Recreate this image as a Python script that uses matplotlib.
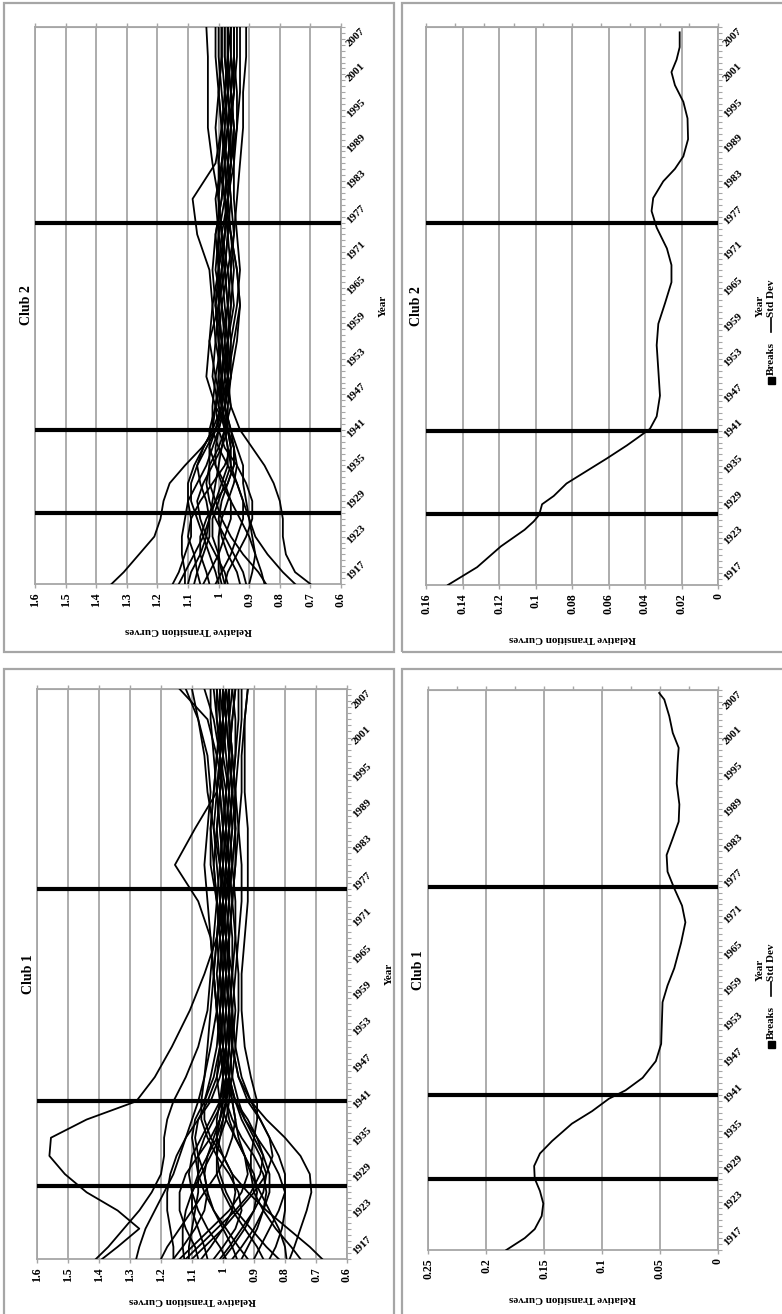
import numpy as np
import matplotlib
matplotlib.use("Agg")
import matplotlib.pyplot as plt
from matplotlib.patches import Rectangle
from matplotlib.lines import Line2D

W, H = 782, 1314
GRAY = "#a6a6a6"
FONT = "Liberation Serif"

# ---- data ----
key_years = [1916, 1918, 1921, 1924, 1927, 1930, 1933, 1936, 1939, 1942, 1946,
             1951, 1957, 1963, 1969, 1975, 1981, 1987, 1993, 1999, 2005, 2010]

club1_curves = [
    [1.39, 1.34, 1.27, 1.34, 1.44, 1.51, 1.56, 1.555, 1.44, 1.28, 1.22, 1.165, 1.107, 1.06, 1.02, 1.01, 1.00, 1.01, 1.02, 1.01, 1.00, 1.00],
    [1.41, 1.37, 1.32, 1.27, 1.23, 1.20, 1.19, 1.19, 1.18, 1.16, 1.12, 1.08, 1.05, 1.04, 1.03, 1.02, 1.03, 1.04, 1.03, 1.02, 1.01, 1.01],
    [1.28, 1.27, 1.25, 1.22, 1.19, 1.16, 1.14, 1.12, 1.10, 1.08, 1.06, 1.05, 1.04, 1.03, 1.04, 1.05, 1.06, 1.05, 1.04, 1.05, 1.08, 1.12],
    [1.20, 1.18, 1.14, 1.10, 1.06, 1.02, 0.99, 0.97, 0.96, 0.97, 0.99, 1.01, 1.02, 1.01, 1.00, 0.99, 0.98, 0.99, 1.00, 1.02, 1.05, 1.14],
    [1.16, 1.16, 1.17, 1.18, 1.18, 1.17, 1.15, 1.12, 1.08, 1.04, 1.01, 0.99, 0.98, 0.99, 1.00, 1.01, 1.00, 0.99, 0.98, 0.99, 1.00, 1.01],
    [1.14, 1.10, 1.04, 0.98, 0.94, 0.92, 0.93, 0.96, 0.99, 1.01, 1.02, 1.01, 1.00, 0.99, 0.98, 0.97, 0.98, 1.00, 1.01, 1.00, 0.99, 0.98],
    [1.125, 1.13, 1.13, 1.12, 1.10, 1.07, 1.04, 1.01, 0.99, 0.98, 0.98, 0.99, 1.00, 1.01, 1.02, 1.01, 1.00, 0.99, 0.98, 0.97, 0.98, 0.99],
    [1.12, 1.08, 1.02, 0.96, 0.91, 0.88, 0.87, 0.89, 0.92, 0.96, 0.99, 1.01, 1.02, 1.03, 1.02, 1.00, 0.98, 0.97, 0.98, 1.00, 1.02, 1.03],
    [1.11, 1.11, 1.10, 1.09, 1.08, 1.08, 1.09, 1.10, 1.09, 1.06, 1.03, 1.01, 1.00, 1.00, 1.01, 1.02, 1.03, 1.02, 1.01, 1.00, 1.00, 1.00],
    [1.10, 1.06, 1.00, 0.95, 0.90, 0.86, 0.84, 0.85, 0.88, 0.92, 0.95, 0.97, 0.98, 0.99, 1.00, 1.00, 0.99, 0.98, 0.97, 0.96, 0.96, 0.97],
    [1.08, 1.09, 1.12, 1.14, 1.14, 1.12, 1.08, 1.04, 1.01, 0.99, 0.98, 0.97, 0.96, 0.97, 0.99, 1.01, 1.02, 1.03, 1.02, 1.01, 1.03, 1.06],
    [1.07, 1.04, 1.00, 0.97, 0.96, 0.97, 1.00, 1.04, 1.06, 1.06, 1.04, 1.02, 1.01, 1.00, 0.99, 0.98, 0.97, 0.96, 0.97, 0.98, 0.99, 1.00],
    [1.05, 1.06, 1.08, 1.10, 1.10, 1.08, 1.05, 1.02, 1.00, 0.99, 0.99, 1.00, 1.01, 1.02, 1.01, 0.99, 0.97, 0.96, 0.96, 0.97, 0.98, 0.97],
    [1.03, 1.00, 0.96, 0.94, 0.95, 0.98, 1.02, 1.05, 1.07, 1.07, 1.06, 1.04, 1.02, 1.03, 1.04, 1.08, 1.155, 1.09, 1.02, 1.00, 0.99, 1.00],
    [1.01, 0.98, 0.94, 0.90, 0.87, 0.86, 0.88, 0.91, 0.94, 0.96, 0.98, 1.00, 1.01, 1.00, 0.99, 0.98, 0.98, 0.99, 1.00, 1.01, 1.02, 1.02],
    [0.99, 1.01, 1.05, 1.08, 1.10, 1.11, 1.10, 1.07, 1.04, 1.01, 0.99, 0.98, 0.98, 0.99, 1.00, 1.00, 0.99, 0.98, 0.99, 1.01, 1.00, 0.99],
    [0.97, 0.94, 0.90, 0.87, 0.85, 0.85, 0.87, 0.90, 0.93, 0.95, 0.97, 0.98, 0.99, 1.00, 1.01, 1.02, 1.01, 1.00, 0.99, 0.98, 0.97, 0.96],
    [0.955, 0.97, 1.00, 1.03, 1.05, 1.06, 1.05, 1.03, 1.01, 1.00, 1.00, 1.01, 1.02, 1.01, 1.00, 0.99, 1.00, 1.01, 1.02, 1.03, 1.04, 1.04],
    [0.94, 0.92, 0.89, 0.87, 0.86, 0.87, 0.90, 0.94, 0.97, 0.99, 1.00, 0.99, 0.98, 0.97, 0.96, 0.96, 0.97, 0.98, 0.97, 0.96, 0.95, 0.95],
    [0.92, 0.95, 0.99, 1.03, 1.06, 1.08, 1.08, 1.06, 1.03, 1.00, 0.98, 0.97, 0.97, 0.98, 0.99, 1.00, 1.01, 1.00, 0.99, 0.98, 0.98, 0.99],
    [0.90, 0.88, 0.85, 0.82, 0.80, 0.80, 0.82, 0.85, 0.88, 0.91, 0.94, 0.96, 0.97, 0.98, 0.99, 1.00, 1.01, 1.02, 1.01, 1.00, 1.01, 1.02],
    [0.87, 0.89, 0.93, 0.97, 1.00, 1.02, 1.02, 1.01, 1.00, 0.99, 0.97, 0.96, 0.95, 0.95, 0.96, 0.97, 0.96, 0.95, 0.94, 0.94, 0.93, 0.92],
    [0.85, 0.83, 0.81, 0.80, 0.80, 0.82, 0.85, 0.89, 0.93, 0.96, 0.98, 0.99, 1.00, 1.01, 1.00, 0.99, 0.98, 0.97, 0.96, 0.97, 0.98, 0.98],
    [0.82, 0.86, 0.91, 0.96, 0.99, 1.01, 1.02, 1.02, 1.01, 1.00, 0.99, 0.98, 0.97, 0.96, 0.95, 0.94, 0.94, 0.95, 0.96, 0.95, 0.94, 0.94],
    [0.795, 0.80, 0.82, 0.85, 0.88, 0.91, 0.93, 0.95, 0.96, 0.97, 0.98, 1.00, 1.02, 1.03, 1.02, 1.00, 0.99, 1.00, 1.01, 1.00, 0.99, 1.00],
    [0.785, 0.77, 0.75, 0.73, 0.715, 0.72, 0.75, 0.80, 0.86, 0.91, 0.95, 0.97, 0.98, 0.99, 0.98, 0.97, 0.96, 0.96, 0.97, 0.98, 0.97, 0.96],
    [0.75, 0.78, 0.83, 0.87, 0.90, 0.91, 0.91, 0.90, 0.89, 0.89, 0.91, 0.93, 0.94, 0.94, 0.93, 0.92, 0.92, 0.92, 0.93, 0.93, 0.93, 0.92],
    [0.68, 0.72, 0.79, 0.86, 0.92, 0.97, 1.00, 1.02, 1.02, 1.01, 1.00, 0.99, 0.98, 0.97, 0.97, 0.98, 0.99, 0.98, 0.97, 0.98, 0.99, 1.00],
    [1.16, 1.13, 1.09, 1.06, 1.05, 1.06, 1.08, 1.09, 1.08, 1.05, 1.02, 1.00, 0.99, 0.98, 0.98, 0.99, 1.01, 1.03, 1.05, 1.06, 1.08, 1.10],
    [1.00, 0.97, 0.93, 0.90, 0.89, 0.90, 0.93, 0.96, 0.98, 0.99, 1.00, 1.01, 1.00, 0.99, 1.00, 1.02, 1.04, 1.04, 1.03, 1.02, 1.00, 0.99],
]

club2_curves = [
    [1.35, 1.31, 1.26, 1.21, 1.19, 1.18, 1.16, 1.11, 1.055, 1.01, 0.99, 0.99, 1.00, 1.01, 0.99, 0.98, 0.97, 0.96, 0.97, 0.98, 0.97, 0.96],
    [1.15, 1.13, 1.11, 1.09, 1.09, 1.10, 1.10, 1.08, 1.05, 1.02, 1.01, 1.00, 0.99, 1.00, 0.99, 0.98, 0.97, 0.96, 0.95, 0.96, 0.97, 0.97],
    [1.13, 1.11, 1.08, 1.05, 1.03, 1.01, 0.99, 0.97, 0.97, 0.98, 1.00, 1.02, 1.01, 1.00, 0.98, 0.97, 0.98, 0.99, 0.97, 0.96, 0.95, 0.95],
    [1.11, 1.11, 1.12, 1.12, 1.11, 1.10, 1.07, 1.04, 1.02, 1.00, 0.98, 0.97, 0.98, 0.99, 1.00, 1.01, 0.99, 0.98, 0.97, 0.98, 0.99, 0.99],
    [1.10, 1.09, 1.06, 1.04, 1.03, 1.04, 1.06, 1.07, 1.05, 1.02, 0.99, 0.98, 0.97, 0.96, 0.97, 0.99, 1.00, 1.00, 0.99, 0.97, 0.96, 0.96],
    [1.06, 1.07, 1.08, 1.10, 1.09, 1.06, 1.02, 0.98, 0.96, 0.97, 0.99, 1.01, 1.03, 1.02, 1.00, 0.98, 0.97, 0.96, 0.96, 0.97, 0.98, 0.98],
    [1.05, 1.03, 1.00, 0.98, 0.96, 0.96, 0.98, 1.01, 1.03, 1.03, 1.01, 0.99, 0.98, 0.97, 0.98, 1.00, 1.01, 0.99, 0.97, 0.95, 0.94, 0.94],
    [1.03, 1.04, 1.06, 1.06, 1.04, 1.01, 0.97, 0.95, 0.95, 0.97, 1.00, 0.99, 0.97, 0.96, 0.95, 0.96, 0.98, 1.00, 1.01, 1.00, 0.99, 0.99],
    [1.01, 0.99, 0.96, 0.94, 0.92, 0.92, 0.94, 0.97, 1.00, 1.02, 1.02, 1.01, 0.99, 0.97, 0.96, 0.95, 0.96, 0.97, 0.96, 0.95, 0.96, 0.96],
    [1.00, 1.01, 1.03, 1.05, 1.07, 1.09, 1.09, 1.07, 1.04, 1.01, 0.98, 0.96, 0.97, 0.99, 1.01, 1.00, 0.98, 0.96, 0.94, 0.93, 0.93, 0.93],
    [0.99, 1.00, 1.00, 1.00, 0.99, 0.97, 0.95, 0.94, 0.95, 0.97, 1.01, 1.04, 1.03, 1.00, 0.98, 0.97, 0.96, 0.97, 0.99, 1.00, 0.99, 0.99],
    [0.98, 0.97, 0.94, 0.91, 0.89, 0.89, 0.91, 0.94, 0.98, 1.00, 1.01, 0.99, 0.97, 0.95, 0.96, 0.97, 0.98, 0.97, 0.96, 0.97, 0.98, 0.98],
    [0.98, 0.99, 1.00, 1.02, 1.02, 1.00, 0.98, 0.96, 0.96, 0.97, 0.98, 0.96, 0.94, 0.93, 0.94, 0.96, 0.97, 0.96, 0.95, 0.96, 0.97, 0.97],
    [0.97, 0.98, 1.01, 1.04, 1.06, 1.07, 1.05, 1.02, 0.99, 0.97, 0.97, 0.99, 1.01, 1.02, 1.03, 1.07, 1.085, 1.01, 0.99, 0.98, 0.97, 0.97],
    [0.91, 0.92, 0.95, 0.98, 1.01, 1.03, 1.04, 1.03, 1.00, 0.98, 0.96, 0.97, 0.99, 1.01, 1.02, 1.01, 0.99, 0.98, 0.99, 1.00, 1.01, 1.01],
    [0.90, 0.89, 0.88, 0.89, 0.90, 0.92, 0.94, 0.96, 0.97, 0.98, 0.99, 1.00, 1.00, 0.99, 0.97, 0.95, 0.94, 0.93, 0.92, 0.92, 0.91, 0.91],
    [0.85, 0.86, 0.88, 0.90, 0.93, 0.96, 0.99, 1.01, 1.01, 1.00, 0.98, 0.97, 0.96, 0.94, 0.93, 0.94, 0.95, 0.95, 0.94, 0.94, 0.95, 0.95],
    [0.845, 0.87, 0.92, 0.96, 0.99, 1.01, 1.03, 1.03, 1.03, 1.01, 0.99, 0.97, 0.97, 0.98, 0.99, 0.98, 0.97, 0.98, 0.98, 0.99, 1.00, 1.00],
    [0.75, 0.79, 0.84, 0.88, 0.90, 0.91, 0.92, 0.92, 0.94, 0.96, 0.98, 0.97, 0.95, 0.93, 0.94, 0.96, 0.98, 0.97, 0.96, 0.95, 0.95, 0.95],
    [0.70, 0.75, 0.78, 0.79, 0.79, 0.80, 0.82, 0.85, 0.89, 0.93, 0.96, 0.98, 0.99, 1.00, 1.00, 1.00, 1.00, 1.02, 1.035, 1.035, 1.035, 1.04],
    [1.08, 1.07, 1.05, 1.03, 1.03, 1.02, 1.01, 1.00, 0.99, 0.98, 0.97, 0.96, 0.96, 0.97, 0.98, 0.99, 1.00, 0.99, 0.98, 0.97, 0.97, 0.97],
    [0.93, 0.94, 0.97, 0.99, 1.00, 0.99, 0.97, 0.95, 0.95, 0.96, 0.98, 0.99, 1.00, 1.01, 1.00, 0.99, 0.97, 0.95, 0.95, 0.96, 0.95, 0.95],
]

club1_sd_years = [1916, 1918, 1919.5, 1921.7, 1923.8, 1925.9, 1928, 1930.1, 1932.2, 1934.3,
                  1937.2, 1939.3, 1941.4, 1942.8, 1944.9, 1947.7, 1950.6, 1954.1, 1957.6,
                  1960.4, 1963.3, 1967.5, 1971, 1973.8, 1976.7, 1979.5, 1982.3, 1985.1,
                  1987.9, 1990.8, 1994.3, 1997.8, 2000.3, 2002.8, 2005.6, 2008.4, 2009.5]
club1_sd = [0.1825, 0.1666, 0.158, 0.152, 0.1506, 0.1535, 0.158, 0.1585, 0.1535, 0.143,
            0.126, 0.1086, 0.094, 0.0797, 0.065, 0.0536, 0.049, 0.0484, 0.0478,
            0.0435, 0.0377, 0.0319, 0.0281, 0.031, 0.0377, 0.0435, 0.0443, 0.039,
            0.0339, 0.0333, 0.0356, 0.0348, 0.0339, 0.039, 0.042, 0.0463, 0.0507]

club2_sd_years = [1916, 1919, 1922.5, 1925.3, 1926.7, 1927.8, 1929.6, 1931, 1933.1, 1935.2,
                  1937.3, 1939.5, 1940.9, 1942.3, 1944.4, 1947.9, 1952.2, 1956.4, 1960,
                  1963.5, 1967, 1969.9, 1972.7, 1976.2, 1979, 1981.2, 1984, 1986.1,
                  1988.2, 1991.1, 1994.6, 1997.4, 2000.2, 2002.4, 2004.5, 2006.6, 2009.1]
club2_sd = [0.148, 0.132, 0.119, 0.106, 0.101, 0.098, 0.0964, 0.090, 0.083, 0.072,
            0.061, 0.050, 0.0436, 0.0373, 0.0336, 0.0318, 0.0327, 0.0336, 0.0327,
            0.029, 0.0255, 0.0255, 0.028, 0.0336, 0.0364, 0.0355, 0.030, 0.0236,
            0.019, 0.0164, 0.0167, 0.019, 0.0236, 0.0255, 0.0227, 0.021, 0.021]

breaks = [1928, 1942, 1977]

year_ticks = [1917, 1923, 1929, 1935, 1941, 1947, 1953, 1959, 1965, 1971,
              1977, 1983, 1989, 1995, 2001, 2007]
curve_ticks = [1.6, 1.5, 1.4, 1.3, 1.2, 1.1, 1.0, 0.9, 0.8, 0.7, 0.6]
curve_labels = ["1.6", "1.5", "1.4", "1.3", "1.2", "1.1", "1", "0.9", "0.8", "0.7", "0.6"]
sd2_ticks = [0.16, 0.14, 0.12, 0.10, 0.08, 0.06, 0.04, 0.02, 0.0]
sd2_labels = ["0.16", "0.14", "0.12", "0.1", "0.08", "0.06", "0.04", "0.02", "0"]
sd1_ticks = [0.25, 0.20, 0.15, 0.10, 0.05, 0.0]
sd1_labels = ["0.25", "0.2", "0.15", "0.1", "0.05", "0"]

YMIN, YMAX = 1916, 2010


def fx(x):
    return x / W


def fy(y):
    return 1 - y / H


def add_frame(fig, x0, y0, x1, y1):
    fig.add_artist(Rectangle((fx(x0), fy(y1)), (x1 - x0) / W, (y1 - y0) / H,
                             transform=fig.transFigure, fill=False,
                             edgecolor=GRAY, lw=1.6))


def make_panel(fig, box, vticks, vlabels, title, xlab_off):
    x0, y0, x1, y1 = box
    ax = fig.add_axes([fx(x0), fy(y1), (x1 - x0) / W, (y1 - y0) / H])
    ax.set_xlim(vticks[0], vticks[-1])
    ax.set_ylim(YMIN, YMAX)
    ax.set_xticks(vticks)
    ax.set_xticklabels(vlabels, rotation=90, fontsize=8.5, fontweight="bold", family=FONT)
    ax.grid(axis="x", color=GRAY, lw=1.3)
    ax.set_axisbelow(True)
    for s in ax.spines.values():
        s.set_color(GRAY)
        s.set_linewidth(1.3)
    ax.tick_params(axis="x", direction="out", length=3, color=GRAY, width=1, pad=3)

    top = ax.secondary_xaxis("top")
    top.set_xticks(np.linspace(vticks[0], vticks[-1], 11))
    top.set_xticklabels([])
    top.tick_params(direction="out", length=3, color=GRAY, width=1)
    top.spines["top"].set_color(GRAY)

    ax.yaxis.tick_right()
    ax.set_yticks(year_ticks)
    ax.set_yticks(list(range(YMIN, YMAX + 1)), minor=True)
    ax.set_yticklabels([str(y) for y in year_ticks], fontsize=8, fontweight="bold", family=FONT)
    ax.tick_params(axis="y", which="both", direction="out", length=3, color=GRAY,
                   width=0.8, pad=2, left=False, right=True)
    plt.setp(ax.get_yticklabels(), rotation=45, ha="left", va="center",
             rotation_mode="anchor")

    for b in breaks:
        ax.axhline(b, color="black", lw=3.0, zorder=3)

    ax.text(0.5, -xlab_off / (y1 - y0), "Relative Transition Curves", transform=ax.transAxes,
            rotation=180, ha="center", va="center", fontsize=8, fontweight="bold", family=FONT)
    yc = (y0 + y1) / 2
    fig.text(fx(x0 - 9), fy(yc), title, rotation=90, ha="center", va="center",
             fontsize=10, fontweight="bold", family=FONT)
    fig.text(fx(x1 + 42), fy(yc), "Year", rotation=90, ha="center", va="center",
             fontsize=8, fontweight="bold", family=FONT)
    return ax


def add_legend(fig, x, yc):
    # entries stacked bottom to top: Breaks, Std Dev
    yb = yc + 53
    fig.add_artist(Rectangle((fx(x - 3.5), fy(yb)), 7 / W, 7 / H, transform=fig.transFigure,
                             facecolor="black", edgecolor="black"))
    fig.text(fx(x), fy(yb - 9), "Breaks", rotation=90, ha="center", va="bottom",
             fontsize=8, fontweight="bold", family=FONT)
    ly = yb - 52
    fig.add_artist(Line2D([fx(x), fx(x)], [fy(ly), fy(ly - 14)], transform=fig.transFigure,
                          color="black", lw=1.2))
    fig.text(fx(x), fy(ly - 15), "Std Dev", rotation=90, ha="center", va="bottom",
             fontsize=8, fontweight="bold", family=FONT)


fig = plt.figure(figsize=(W / 100, H / 100), dpi=100)
fig.patch.set_facecolor("white")

add_frame(fig, 4, 3, 394, 652)
add_frame(fig, 402, 3, 800, 652)
add_frame(fig, 4, 669, 394, 1340)
add_frame(fig, 402, 669, 800, 1340)

# Club 2 curves (top left)
ax = make_panel(fig, (35, 27, 341, 584), curve_ticks, curve_labels, "Club 2", 46)
for c in club2_curves:
    ax.plot(c, key_years, color="black", lw=1.3, zorder=4, solid_joinstyle="round")

# Club 2 std dev (top right)
ax = make_panel(fig, (426, 27, 718, 585), sd2_ticks, sd2_labels, "Club 2", 53)
ax.plot(club2_sd, club2_sd_years, color="black", lw=1.3, zorder=4)
add_legend(fig, 771, 331)

# Club 1 curves (bottom left)
ax = make_panel(fig, (37, 689, 347, 1259), curve_ticks, curve_labels, "Club 1", 41)
for c in club1_curves:
    ax.plot(c, key_years, color="black", lw=1.3, zorder=4, solid_joinstyle="round")

# Club 1 std dev (bottom right)
ax = make_panel(fig, (428, 690, 718, 1250), sd1_ticks, sd1_labels, "Club 1", 48)
ax.plot(club1_sd, club1_sd_years, color="black", lw=1.3, zorder=4)
add_legend(fig, 771, 995)

fig.savefig("out.png", dpi=100, facecolor="white")
